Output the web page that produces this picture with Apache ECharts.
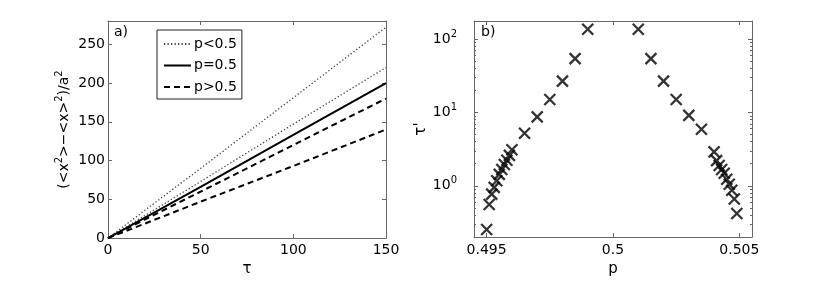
<!DOCTYPE html>
<html>
<head>
<meta charset="utf-8">
<script src="https://cdn.jsdelivr.net/npm/echarts@6/dist/echarts.min.js"></script>
<style>
html,body{margin:0;padding:0;background:#fff;}
#chart{width:830px;height:282px;}
</style>
</head>
<body>
<div id="chart"></div>
<script>
// ---- Panel a) data ----
const tau = [0, 50, 100, 150];
const dottedHigh = [0, 90, 181, 272];
const dottedLow = [0, 73, 147, 220];
const solidMid = [0, 66, 133, 200];
const dashedHigh = [0, 60, 120, 180];
const dashedLow = [0, 47, 93, 140];
const legendNames = ['p<0.5', 'p=0.5', 'p>0.5'];
const aXTicks = [0, 50, 100, 150];
const aYTicks = [0, 50, 100, 150, 200, 250];

// ---- Panel b) data ----
const pLeft = [0.4950, 0.4951, 0.4952, 0.4953, 0.4954, 0.4955, 0.4956, 0.4957, 0.4958, 0.4959, 0.4960, 0.4965, 0.4970, 0.4975, 0.4980, 0.4985, 0.4990];
const tauLeft = [0.254, 0.556, 0.77, 0.95, 1.17, 1.43, 1.67, 1.95, 2.23, 2.6, 3.1, 5.2, 8.7, 15.0, 26.7, 54, 136];
const pRight = [0.5010, 0.5015, 0.5020, 0.5025, 0.5030, 0.5035, 0.5040, 0.5041, 0.5042, 0.5043, 0.5044, 0.5045, 0.5046, 0.5047, 0.5048, 0.5049];
const tauRight = [136, 54, 26.7, 15.0, 9.1, 5.9, 2.9, 2.2, 1.89, 1.67, 1.48, 1.23, 1.05, 0.87, 0.66, 0.42];
const bXTicks = [0.495, 0.5, 0.505];
const bYTicks = [1, 10, 100];
const bYMinorTicks = [0.2, 0.3, 0.4, 0.5, 0.6, 0.7, 0.8, 0.9, 2, 3, 4, 5, 6, 7, 8, 9, 20, 30, 40, 50, 60, 70, 80, 90];

const FONT = 'DejaVu Sans';
const FRAME = '#666';

function pairs(xs, ys) { return xs.map((x, i) => [x, ys[i]]); }

const scatterData = pairs(pLeft, tauLeft).concat(pairs(pRight, tauRight));

const chart = echarts.init(document.getElementById('chart'), null, {renderer: 'canvas'});

function frameAxis(extra) {
  return Object.assign({
    axisLine: {show: true, onZero: false, lineStyle: {color: FRAME, width: 1}},
    axisTick: {show: true, inside: true, length: 4, lineStyle: {color: FRAME}},
    axisLabel: {show: false},
    splitLine: {show: false},
    minorTick: {show: false}
  }, extra);
}

const option = {
  animation: false,
  backgroundColor: '#fff',
  textStyle: {fontFamily: FONT},
  grid: [
    {left: 108, top: 21, right: 444, bottom: 42, show: true, borderWidth: 0, backgroundColor: '#fff'},
    {left: 474, top: 21, right: 78, bottom: 42, show: true, borderWidth: 0, backgroundColor: '#fff'}
  ],
  legend: {
    data: legendNames,
    left: 157, top: 30,
    orient: 'vertical',
    itemWidth: 27, itemHeight: 14, itemGap: 7.5,
    padding: [7, 5, 5, 6],
    backgroundColor: '#fff',
    borderColor: '#222', borderWidth: 1,
    selectedMode: false,
    itemStyle: {opacity: 0, color: 'transparent', borderWidth: 0},
    textStyle: {fontFamily: FONT, fontSize: 14, color: '#000', padding: [0, 0, 0, -2]}
  },
  xAxis: [
    frameAxis({type: 'value', gridIndex: 0, position: 'bottom', min: 0, max: 150,
      name: 'τ', nameLocation: 'middle', nameGap: 19,
      nameTextStyle: {fontFamily: FONT, fontSize: 15, color: '#000'},
      axisTick: {show: true, inside: true, length: 4, lineStyle: {color: FRAME}, customValues: aXTicks},
      axisLabel: {show: true, customValues: aXTicks, fontFamily: FONT, fontSize: 14, color: '#000', margin: 5}}),
    frameAxis({type: 'value', gridIndex: 0, position: 'top', min: 0, max: 150,
      axisTick: {show: true, inside: true, length: 4, lineStyle: {color: FRAME}, customValues: aXTicks}}),
    frameAxis({type: 'value', gridIndex: 1, position: 'bottom', min: 0.4945, max: 0.5055,
      name: 'p', nameLocation: 'middle', nameGap: 21,
      nameTextStyle: {fontFamily: FONT, fontSize: 15, color: '#000'},
      axisTick: {show: true, inside: true, length: 4, lineStyle: {color: FRAME}, customValues: bXTicks},
      axisLabel: {show: true, customValues: bXTicks, fontFamily: FONT, fontSize: 14, color: '#000', margin: 6,
        formatter: v => String(+v.toFixed(3))}}),
    frameAxis({type: 'value', gridIndex: 1, position: 'top', min: 0.4945, max: 0.5055,
      axisTick: {show: true, inside: true, length: 4, lineStyle: {color: FRAME}, customValues: bXTicks}})
  ],
  yAxis: [
    frameAxis({type: 'value', gridIndex: 0, position: 'left', min: 0, max: 280,
      name: '(<x{sup|2}>−<x>{sup|2})/a{sup|2}', nameLocation: 'middle', nameRotate: 90, nameGap: 34,
      nameTextStyle: {fontFamily: FONT, fontSize: 14, color: '#000', lineHeight: 20,
        rich: {sup: {fontFamily: FONT, fontSize: 10, lineHeight: 11, verticalAlign: 'top', color: '#000'}}},
      axisTick: {show: true, inside: true, length: 4, lineStyle: {color: FRAME}, customValues: aYTicks},
      axisLabel: {show: true, customValues: aYTicks, fontFamily: FONT, fontSize: 14, color: '#000', margin: 3}}),
    frameAxis({type: 'value', gridIndex: 0, position: 'right', min: 0, max: 280,
      axisTick: {show: true, inside: true, length: 4, lineStyle: {color: FRAME}, customValues: aYTicks}}),
    frameAxis({type: 'log', logBase: 10, gridIndex: 1, position: 'left', min: 0.2, max: 176,
      name: 'τ\'', nameLocation: 'middle', nameRotate: 90, nameGap: 42,
      nameTextStyle: {fontFamily: FONT, fontSize: 15, color: '#000'},
      axisTick: {show: true, inside: true, length: 4, lineStyle: {color: FRAME}, customValues: bYTicks},
      axisLabel: {show: true, customValues: bYTicks, fontFamily: FONT, fontSize: 14, color: '#000', margin: 17,
        formatter: v => '10{sup|' + Math.round(Math.log10(v)) + '}',
        lineHeight: 20,
        rich: {sup: {fontFamily: FONT, fontSize: 10, lineHeight: 11, verticalAlign: 'top', color: '#000'}}}}),
    frameAxis({type: 'log', logBase: 10, gridIndex: 1, position: 'right', min: 0.2, max: 176,
      axisTick: {show: true, inside: true, length: 4, lineStyle: {color: FRAME}, customValues: bYTicks}}),
    frameAxis({type: 'log', logBase: 10, gridIndex: 1, position: 'left', min: 0.2, max: 176,
      axisLine: {show: false},
      axisTick: {show: true, inside: true, length: 2, lineStyle: {color: FRAME}, customValues: bYMinorTicks}}),
    frameAxis({type: 'log', logBase: 10, gridIndex: 1, position: 'right', min: 0.2, max: 176,
      axisLine: {show: false},
      axisTick: {show: true, inside: true, length: 2, lineStyle: {color: FRAME}, customValues: bYMinorTicks}})
  ],
  graphic: [
    {type: 'text', left: 114, top: 25, style: {text: 'a)', fontFamily: FONT, fontSize: 14, fill: '#000'}},
    {type: 'text', left: 481, top: 25, style: {text: 'b)', fontFamily: FONT, fontSize: 14, fill: '#000'}}
  ],
  series: [
    {type: 'line', name: 'p<0.5', xAxisIndex: 0, yAxisIndex: 0, data: pairs(tau, dottedHigh), symbol: 'none',
      lineStyle: {color: '#444', width: 1.3, type: [1.3, 2.2]}, itemStyle: {color: '#444'}},
    {type: 'line', name: 'p<0.5', xAxisIndex: 0, yAxisIndex: 0, data: pairs(tau, dottedLow), symbol: 'none',
      lineStyle: {color: '#444', width: 1.3, type: [1.3, 2.2]}, itemStyle: {color: '#444'}},
    {type: 'line', name: 'p=0.5', xAxisIndex: 0, yAxisIndex: 0, data: pairs(tau, solidMid), symbol: 'none',
      lineStyle: {color: '#000', width: 2, type: 'solid'}, itemStyle: {color: '#000'}},
    {type: 'line', name: 'p>0.5', xAxisIndex: 0, yAxisIndex: 0, data: pairs(tau, dashedHigh), symbol: 'none',
      lineStyle: {color: '#000', width: 2, type: [6, 4]}, itemStyle: {color: '#000'}},
    {type: 'line', name: 'p>0.5', xAxisIndex: 0, yAxisIndex: 0, data: pairs(tau, dashedLow), symbol: 'none',
      lineStyle: {color: '#000', width: 2, type: [6, 4]}, itemStyle: {color: '#000'}},
    {type: 'scatter', name: 'tau', xAxisIndex: 2, yAxisIndex: 2, data: scatterData,
      symbol: 'path://M0,0L10,10M0,10L10,0', symbolSize: 11,
      itemStyle: {color: 'transparent', borderColor: '#000', borderWidth: 2.3}}
  ]
};
chart.setOption(option);
</script>
</body>
</html>
